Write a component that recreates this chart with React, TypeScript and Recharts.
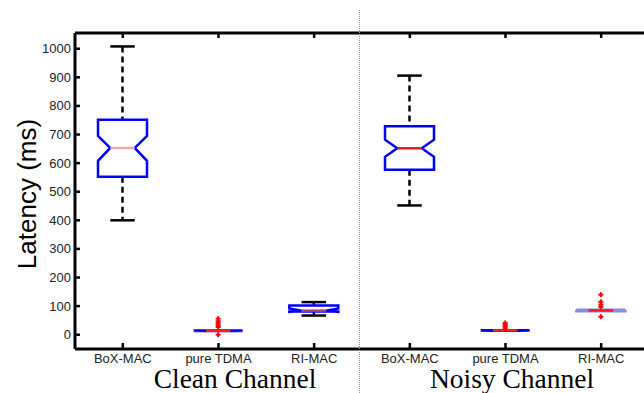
import React from 'react';
import { ComposedChart, Bar, XAxis, YAxis } from 'recharts';

// categories (two channel conditions x three MAC protocols)
const categories = ['clean-box', 'clean-tdma', 'clean-ri', 'noisy-box', 'noisy-tdma', 'noisy-ri'];
const categoryLabels = ['BoX-MAC', 'pure TDMA', 'RI-MAC', 'BoX-MAC', 'pure TDMA', 'RI-MAC'];
const groupLabels = ['Clean Channel', 'Noisy Channel'];

// box plot stats, latency in ms
const whiskerLow = [400, 13, 67, 452, 14, 82];
const q1 = [552, 13, 81, 577, 14, 82];
const median = [653, 14, 84, 652, 15, 85];
const q3 = [752, 15, 102, 729, 16, 87];
const whiskerHigh = [1008, 15, 114, 906, 16, 87];
const notchLow = [608, 13, 80, 622, 14, 83];
const notchHigh = [695, 15, 92, 682, 16, 87];
const outliers = [[], [56, 47, 40, 33, 27, 0], [], [], [41, 34, 28, 22], [140, 115, 105, 97, 63]];

const yTicks = [0, 100, 200, 300, 400, 500, 600, 700, 800, 900, 1000];

// colours per box (median line / box outline)
const medianColors = ['#eaa8a8', '#ff2020', '#b03a7a', '#ee1c1c', '#ff2020', '#ee1c1c'];
const boxColors = ['#0000ff', '#0000ff', '#0000ff', '#0000ff', '#0000ff', '#8a8ae0'];

const rows = categories.map((c, i) => {
  const all = [whiskerLow[i], whiskerHigh[i], ...outliers[i]];
  return {
    name: c,
    idx: i,
    span: [Math.min(...all), Math.max(...all)],
  };
});

const sans = '"Liberation Sans", Arial, sans-serif';
const serif = '"Liberation Serif", "Times New Roman", serif';

const BoxShape = (props: any) => {
  const { x, y, width, height, payload } = props;
  const i = payload.idx;
  const [lo, hi] = payload.span;
  const top = Math.min(y, y + height);
  const bottom = Math.max(y, y + height);
  const py = (v: number) => top + ((hi - v) / (hi - lo)) * (bottom - top);
  const cx = x + width / 2;
  const L = x;
  const R = x + width;
  const inset = width / 4;
  const capHalf = width / 4;

  const pts = [
    [L, py(q3[i])],
    [R, py(q3[i])],
    [R, py(notchHigh[i])],
    [R - inset, py(median[i])],
    [R, py(notchLow[i])],
    [R, py(q1[i])],
    [L, py(q1[i])],
    [L, py(notchLow[i])],
    [L + inset, py(median[i])],
    [L, py(notchHigh[i])],
  ]
    .map((p) => p.join(','))
    .join(' ');

  return (
    <g>
      {whiskerHigh[i] > q3[i] && (
        <>
          <line x1={cx} x2={cx} y1={py(whiskerHigh[i])} y2={py(q3[i])} stroke="#000" strokeWidth={2.5} strokeDasharray="6 4" />
          <line x1={cx - capHalf} x2={cx + capHalf} y1={py(whiskerHigh[i])} y2={py(whiskerHigh[i])} stroke="#000" strokeWidth={2.5} />
        </>
      )}
      {whiskerLow[i] < q1[i] && (
        <>
          <line x1={cx} x2={cx} y1={py(q1[i])} y2={py(whiskerLow[i])} stroke="#000" strokeWidth={2.5} strokeDasharray="6 4" />
          <line x1={cx - capHalf} x2={cx + capHalf} y1={py(whiskerLow[i])} y2={py(whiskerLow[i])} stroke="#000" strokeWidth={2.5} />
        </>
      )}
      <polygon points={pts} fill="none" stroke={boxColors[i]} strokeWidth={2.5} strokeLinejoin="miter" />
      <line x1={L + inset} x2={R - inset} y1={py(median[i])} y2={py(median[i])} stroke={medianColors[i]} strokeWidth={2.5} />
      {outliers[i].map((v, k) => (
        <g key={k}>
          <line x1={cx - 2.5} x2={cx + 2.5} y1={py(v)} y2={py(v)} stroke="#ff0000" strokeWidth={2} />
          <line x1={cx} x2={cx} y1={py(v) - 2.5} y2={py(v) + 2.5} stroke="#ff0000" strokeWidth={2} />
        </g>
      ))}
    </g>
  );
};

const LeftTick = ({ x, y, payload }: any) => (
  <g>
    <line x1={x} x2={x + 5} y1={y} y2={y} stroke="#000" strokeWidth={2.5} />
    <text x={x - 4} y={y + 4.5} textAnchor="end" fontSize={13} fill="#222" fontFamily={sans}>
      {payload.value}
    </text>
  </g>
);

const RightTick = ({ x, y }: any) => (
  <line x1={x} x2={x - 5} y1={y} y2={y} stroke="#000" strokeWidth={2.5} />
);

const BottomTick = ({ x, y, index }: any) => (
  <g>
    <line x1={x} x2={x} y1={y} y2={y - 6} stroke="#000" strokeWidth={2.5} />
    <text x={x} y={y + 14} textAnchor="middle" fontSize={13} fill="#222" fontFamily={sans}>
      {categoryLabels[index]}
    </text>
  </g>
);

const TopTick = ({ x, y }: any) => (
  <line x1={x} x2={x} y1={y} y2={y + 5} stroke="#000" strokeWidth={2.5} />
);

export default function App() {
  return (
    <div style={{ position: 'fixed', left: 0, top: 0, width: 644, height: 393, overflow: 'hidden', background: '#fff' }}>
      <ComposedChart width={700} height={393} data={rows} margin={{ top: 28, right: 46, left: 0, bottom: 14 }}>
        <XAxis
          dataKey="name"
          xAxisId="bottom"
          height={30}
          interval={0}
          tickSize={0}
          tickMargin={0}
          tickLine={false}
          axisLine={{ stroke: '#000', strokeWidth: 3 }}
          tick={BottomTick}
          label={{
            content: () => (
              <g>
                <text x={235} y={388} textAnchor="middle" fontSize={27.5} fill="#000" fontFamily={serif}>{groupLabels[0]}</text>
                <text x={512} y={388} textAnchor="middle" fontSize={27.5} fill="#000" fontFamily={serif}>{groupLabels[1]}</text>
              </g>
            ),
          }}
        />
        <XAxis
          dataKey="name"
          xAxisId="top"
          orientation="top"
          height={5}
          interval={0}
          tickSize={0}
          tickMargin={0}
          tickLine={false}
          axisLine={{ stroke: '#000', strokeWidth: 3 }}
          tick={TopTick}
        />
        <YAxis
          yAxisId="left"
          type="number"
          width={75}
          domain={[-50, 1055]}
          ticks={yTicks}
          interval={0}
          allowDataOverflow
          tickSize={0}
          tickMargin={0}
          tickLine={false}
          axisLine={{ stroke: '#000', strokeWidth: 3 }}
          tick={LeftTick}
          label={{
            content: () => (
              <text transform="rotate(-90)" x={-194} y={36} textAnchor="middle" fontSize={26} fill="#000" fontFamily={sans}>
                Latency (ms)
              </text>
            ),
          }}
        />
        <YAxis
          yAxisId="right"
          orientation="right"
          type="number"
          width={5}
          domain={[-50, 1055]}
          ticks={yTicks}
          interval={0}
          allowDataOverflow
          tickSize={0}
          tickMargin={0}
          tickLine={false}
          axisLine={{ stroke: '#000', strokeWidth: 3 }}
          tick={RightTick}
        />
        <Bar
          dataKey="span"
          xAxisId="bottom"
          yAxisId="left"
          barSize={49}
          shape={BoxShape}
          isAnimationActive={false}
        />
      </ComposedChart>
      <div style={{ position: 'absolute', left: 359, top: 10, height: 383, borderLeft: '1px dotted #999' }} />
    </div>
  );
}
